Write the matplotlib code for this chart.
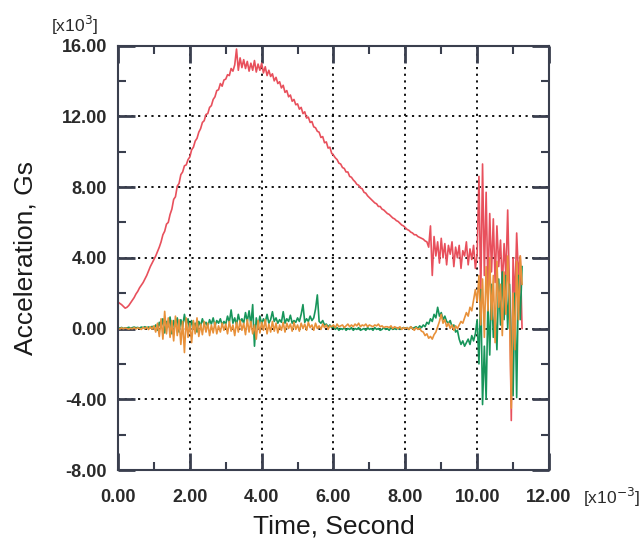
import numpy as np
import matplotlib
matplotlib.use("Agg")
import matplotlib.pyplot as plt
from matplotlib.ticker import MultipleLocator

plt.rcParams['font.family'] = ['Liberation Sans', 'DejaVu Sans']

# tiempo en ms (x10^-3 s), paso 0.05
tiempo = np.linspace(0, 11.25, 226)

# aceleracion en miles de G
rojo = [1.50, 1.42, 1.35, 1.25, 1.15, 1.20, 1.30, 1.45, 1.60, 1.75,
        1.95, 2.10, 2.30, 2.45, 2.60, 2.80, 3.00, 3.25, 3.50, 3.70,
        3.90, 4.10, 4.35, 4.60, 4.90, 5.30, 5.50, 5.90, 6.00, 6.45,
        6.75, 7.30, 7.45, 8.05, 8.20, 8.70, 8.85, 9.20, 9.25, 9.55,
        9.70, 10.10, 10.25, 10.60, 10.75, 11.10, 11.30, 11.65, 11.75, 12.10,
        12.15, 12.50, 12.60, 12.95, 13.10, 13.45, 13.50, 13.85, 13.70, 14.05,
        14.10, 14.35, 14.30, 14.70, 14.55, 14.90, 15.80, 14.60, 15.30, 14.75,
        15.20, 14.70, 15.10, 14.55, 15.00, 14.60, 15.15, 14.50, 14.95, 14.60,
        15.00, 14.45, 14.80, 14.30, 14.60, 14.25, 14.40, 14.00, 14.20, 13.85,
        13.95, 13.60, 13.75, 13.35, 13.45, 13.10, 13.20, 12.85, 12.95, 12.65,
        12.70, 12.40, 12.50, 12.15, 12.25, 11.90, 11.95, 11.65, 11.70, 11.40,
        11.35, 11.15, 11.10, 10.80, 10.85, 10.50, 10.55, 10.20, 10.25, 9.90,
        9.80, 9.65, 9.55, 9.35, 9.30, 9.10, 9.05, 8.85, 8.85, 8.60,
        8.55, 8.40, 8.30, 8.15, 8.10, 7.95, 7.90, 7.70, 7.65, 7.50,
        7.40, 7.30, 7.20, 7.10, 7.05, 6.90, 6.90, 6.75, 6.70, 6.60,
        6.50, 6.45, 6.35, 6.25, 6.20, 6.10, 6.05, 5.95, 5.85, 5.80,
        5.70, 5.60, 5.55, 5.45, 5.40, 5.30, 5.30, 5.20, 5.15, 5.10,
        5.05, 4.95, 4.90, 4.60, 5.80, 3.00, 5.20, 4.10, 4.90, 3.70,
        5.10, 4.00, 4.80, 3.60, 4.70, 4.20, 4.90, 3.50, 4.60, 4.00,
        4.70, 3.40, 4.40, 4.10, 4.90, 3.60, 4.50, 3.90, 4.70, 3.40,
        4.20, 8.60, 1.80, 9.30, 3.00, 7.70, 2.20, 6.50, 3.20, 6.20,
        2.60, 5.80, 3.50, 5.00, 2.40, 4.80, 3.00, 6.70, 2.20, -5.20,
        4.00, 1.50, 5.40, 3.00, 4.10, 0.00]

verde = [0.05, 0.02, 0.06, 0.00, 0.04, 0.03, 0.07, 0.02, 0.05, 0.08,
         0.04, 0.06, 0.02, 0.08, 0.05, 0.10, 0.03, 0.09, 0.04, 0.12,
         0.02, 0.20, -0.10, 0.35, 0.05, 0.55, -0.25, 0.40, 0.10, 0.65,
         -0.30, 0.45, 0.15, 0.60, -0.20, 0.50, 0.10, 0.80, 0.20, 0.55,
         -0.15, 0.45, 0.10, 0.30, -0.20, 0.40, 0.15, 0.55, 0.20, 0.35,
         0.10, 0.50, 0.25, 0.60, 0.15, 0.45, 0.30, 0.55, 0.20, 0.40,
         0.25, 0.70, 0.35, 1.05, 0.30, 0.60, 0.20, 0.80, 0.35, 0.55,
         0.30, 0.90, 0.40, 1.00, 0.20, 1.35, -1.00, 0.60, 0.10, 0.70,
         0.25, 0.55, 0.35, 0.80, 0.30, 0.50, 0.95, 0.40, 0.60, 0.30,
         0.50, 0.35, 0.95, 0.30, 0.55, 0.40, 0.75, 0.30, 0.45, 0.35,
         0.60, 0.40, 0.80, 1.35, 0.35, 0.55, 0.40, 0.70, 0.45, 0.60,
         1.10, 1.90, 0.40, 0.30, 0.45, 0.20, 0.25, 0.10, 0.20, 0.05,
         0.10, -0.05, 0.05, -0.10, 0.00, -0.05, 0.05, -0.10, 0.00, -0.05,
         0.05, -0.10, 0.00, -0.05, 0.05, -0.10, -0.05, 0.00, -0.10, 0.05,
         -0.05, 0.00, -0.10, 0.05, -0.05, 0.00, -0.10, -0.05, 0.05, -0.05,
         0.00, -0.10, 0.05, -0.05, 0.00, -0.05, 0.05, -0.05, 0.00, 0.05,
         0.00, 0.05, -0.05, 0.10, 0.00, 0.05, 0.10, 0.00, 0.15, 0.05,
         0.20, 0.10, 0.35, 0.25, 0.55, 0.40, 0.80, 0.60, 1.20, 0.70,
         0.90, 0.50, 0.70, 0.40, 0.30, 0.45, 0.10, 0.20, -0.20, -0.10,
         -0.60, -0.90, -0.70, -1.00, -0.80, -0.60, -0.90, -0.40, -0.70, -0.30,
         0.50, -2.00, 2.20, -4.30, -1.00, -4.00, 1.50, -1.50, 2.50, -0.50,
         1.00, -1.20, 2.80, 0.20, 3.20, 0.50, 3.00, 0.00, 2.50, -1.00,
         -3.80, 2.00, -3.90, 3.00, 0.50, 3.50]

naranja = [0.02, -0.03, 0.04, -0.02, 0.03, 0.00, -0.04, 0.02, -0.02, 0.05,
           -0.03, 0.04, 0.00, -0.05, 0.06, -0.02, 0.08, -0.06, 0.10, -0.04,
           0.15, -0.20, 0.30, -0.45, 0.55, -0.60, 0.97, -0.30, 0.60, -0.50,
           0.45, -0.70, 0.70, -0.40, 0.50, -0.90, 0.40, -1.36, 0.60, -0.50,
           0.30, -0.80, 0.45, -0.30, 0.60, -0.45, 0.25, -0.35, 0.40, -0.20,
           0.30, -0.40, 0.20, -0.25, 0.35, -0.30, 0.15, -0.20, 0.30, -0.10,
           0.25, -0.30, 0.40, -0.15, 0.20, -0.40, 0.35, -0.20, 0.45, -0.10,
           0.30, -0.35, 0.50, -0.20, 0.40, -0.30, 0.20, -0.60, 0.45, -0.25,
           0.35, -0.10, 0.50, -0.30, 0.25, -0.20, 0.40, -0.15, 0.30, -0.25,
           0.20, -0.10, 0.35, -0.20, 0.30, 0.00, 0.25, -0.15, 0.35, -0.05,
           0.20, -0.15, 0.30, 0.00, 0.25, -0.10, 0.35, 0.05, 0.20, -0.10,
           0.30, 0.00, 0.15, -0.05, 0.25, 0.05, 0.20, -0.05, 0.15, 0.10,
           0.20, 0.05, 0.25, 0.10, 0.15, 0.20, 0.05, 0.15, 0.25, 0.10,
           0.20, 0.10, 0.25, 0.15, 0.30, 0.10, 0.20, 0.15, 0.25, 0.10,
           0.20, 0.15, 0.10, 0.20, 0.15, 0.25, 0.10, 0.15, 0.05, 0.10,
           0.10, 0.05, 0.15, 0.00, 0.10, 0.05, 0.00, 0.10, -0.05, 0.05,
           0.00, 0.05, -0.05, 0.10, 0.00, -0.10, 0.05, -0.05, 0.00, -0.15,
           -0.20, -0.40, -0.30, -0.55, -0.45, -0.60, -0.35, -0.20, 0.10, 0.40,
           0.80, 0.30, 0.50, 0.10, 0.30, 0.00, 0.20, -0.10, 0.15, 0.00,
           0.20, 0.40, 0.30, 0.60, 0.90, 0.70, 1.20, 1.00, 1.60, 2.20,
           1.50, 3.00, 0.20, 2.80, -0.50, 3.50, 1.00, 4.00, 0.50, 3.00,
           -0.80, 3.80, 1.20, 2.50, -0.40, 3.20, 0.80, 4.10, 1.50, -4.50,
           2.00, -1.20, 3.80, 0.50, 4.10, 2.50]

xticks = [0, 2, 4, 6, 8, 10, 12]
yticks = [-8, -4, 0, 4, 8, 12, 16]

fig = plt.figure(figsize=(6.43, 5.45), dpi=100)
ax = fig.add_axes([0.1835, 0.1376, 0.6703, 0.7789])

ax.plot(tiempo, rojo, color="#e8505c", lw=1.2)
ax.plot(tiempo, verde, color="#17955a", lw=1.2)
ax.plot(tiempo, naranja, color="#e8913a", lw=1.2)

ax.set_xlim(0, 12)
ax.set_ylim(-8, 16)
ax.set_xticks(xticks)
ax.set_yticks(yticks)
ax.set_xticklabels([f"{v:.2f}" for v in xticks], fontweight="bold")
ax.set_yticklabels([f"{v:.2f}" for v in yticks], fontweight="bold")
ax.xaxis.set_minor_locator(MultipleLocator(1))
ax.yaxis.set_minor_locator(MultipleLocator(2))
ax.tick_params(which="both", direction="in", top=True, right=True,
               color="#3a3f4e", labelsize=13, labelcolor="#2a2a2a")
ax.tick_params(which="major", length=12, width=2)
ax.tick_params(which="minor", length=6, width=1.5)
ax.tick_params(axis="x", which="major", pad=14)
ax.tick_params(axis="y", which="major", pad=8)
ax.grid(which="major", color="black", linestyle=(0, (1.2, 2.5)), lw=1.3)

for s in ax.spines.values():
    s.set_color("#3a3f4e")
    s.set_linewidth(1.5)

ax.set_xlabel("Time, Second", fontsize=19, labelpad=6, color="#1a1a1a")
ax.set_ylabel("Acceleration, Gs", fontsize=19, labelpad=17, color="#1a1a1a")
ax.text(-0.10, 1.048, r"[x10$^3$]", transform=ax.transAxes,
        fontsize=12.5, ha="center", va="center", color="#2a2a2a")
ax.text(1.146, -0.064, r"[x10$^{-3}$]", transform=ax.transAxes,
        fontsize=12.5, ha="center", va="center", color="#2a2a2a")

fig.savefig("out.png", dpi=100)
